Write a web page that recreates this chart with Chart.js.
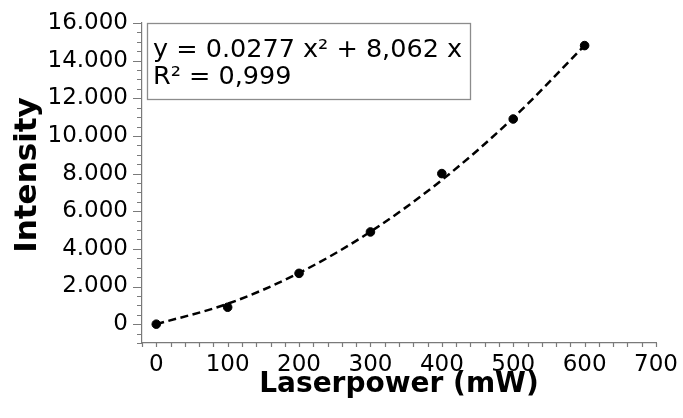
<!DOCTYPE html>
<html>
<head>
<meta charset="utf-8">
<script src="https://cdn.jsdelivr.net/npm/chart.js@4.4.1/dist/chart.umd.min.js"></script>
<style>
  html, body { margin: 0; padding: 0; background: #fff; }
  #wrap { width: 683px; height: 418px; }
</style>
</head>
<body>
<div id="wrap"><canvas id="graph"></canvas></div>
<script>
// measured laser power (mW) and intensity
const powers = [0, 100, 200, 300, 400, 500, 600];
const intensities = [0, 900, 2700, 4900, 8000, 10900, 14800];

// quadratic fit, as written in the box
const fitA = 0.0277;
const fitB = 8.062;
const fitLines = ["y = 0.0277 x\u00b2 + 8,062 x", "R\u00b2 = 0,999"];

const xMajor = [0, 100, 200, 300, 400, 500, 600, 700];
const yMajor = [0, 2000, 4000, 6000, 8000, 10000, 12000, 14000, 16000];

const font = "'DejaVu Sans', Verdana, sans-serif";
const axisGray = '#7a7a7a';

let points = [];
let trend = [];
for (let i = 0; i < powers.length; i++) {
    points.push({ x: powers[i], y: intensities[i] });
    trend.push({ x: powers[i], y: fitA * powers[i] * powers[i] + fitB * powers[i] });
}

function thousands(v) {
    return String(v).replace(/\B(?=(\d{3})+(?!\d))/g, ".");
}

// draws major/minor tick marks, the y title and the fit box
const extras = {
    id: 'extras',
    afterDraw(chart) {
        const c = chart.ctx;
        const area = chart.chartArea;
        const xs = chart.scales.x;
        const ys = chart.scales.y;
        c.save();
        c.strokeStyle = axisGray;
        c.lineWidth = 1.2;
        c.beginPath();
        ys.ticks.forEach(t => {
            if (t.value % 500 != 0) return;
            let py = Math.round(ys.getPixelForValue(t.value)) + 0.5;
            let len = yMajor.includes(t.value) ? 9 : 5;
            c.moveTo(area.left - len, py);
            c.lineTo(area.left, py);
        });
        xs.ticks.forEach(t => {
            let px = Math.round(xs.getPixelForValue(t.value)) + 0.5;
            c.moveTo(px, area.bottom);
            c.lineTo(px, area.bottom + 4);
        });
        c.stroke();

        // y axis title, sits a bit above the middle
        c.save();
        c.translate(36, 175);
        c.rotate(-Math.PI / 2);
        c.fillStyle = '#000';
        c.font = "bold 31px " + font;
        c.textAlign = 'center';
        c.textBaseline = 'alphabetic';
        c.fillText('Intensity', 0, 0);
        c.restore();

        // fit box
        let bx = area.left + 5, by = area.top, bw = 323, bh = 76;
        c.fillStyle = '#fff';
        c.fillRect(bx, by, bw, bh);
        c.strokeStyle = '#8c8c8c';
        c.lineWidth = 1.3;
        c.strokeRect(bx + 0.5, by + 0.5, bw, bh);
        c.fillStyle = '#000';
        c.font = "25.5px " + font;
        c.textBaseline = 'alphabetic';
        c.fillText(fitLines[0], bx + 6, by + 34);
        c.fillText(fitLines[1], bx + 6, by + 61);
        c.restore();
    }
};

Chart.defaults.color = '#000';
Chart.defaults.font.family = font;

const ctx = document.getElementById('graph').getContext('2d');
const chart = new Chart(ctx, {
    type: 'scatter',
    data: {
        datasets: [
            {
                label: 'Intensity',
                data: points,
                backgroundColor: '#000',
                borderColor: '#000',
                pointRadius: 4.3,
                pointHoverRadius: 4.3,
            },
            {
                label: 'Fit',
                data: trend,
                showLine: true,
                borderColor: '#000',
                borderWidth: 2.5,
                borderDash: [8, 4.5],
                pointRadius: 0,
                cubicInterpolationMode: 'monotone',
            }
        ]
    },
    options: {
        responsive: true,
        maintainAspectRatio: false,
        animation: false,
        layout: { padding: { top: 23, right: 27, left: 0, bottom: 0 } },
        plugins: {
            legend: { display: false },
            tooltip: { enabled: false },
        },
        scales: {
            x: {
                type: 'linear',
                min: -20,
                max: 700,
                afterFit(scale) { scale.height = 75; },
                ticks: {
                    stepSize: 20,
                    autoSkip: false,
                    maxRotation: 0,
                    padding: 4,
                    font: { size: 23 },
                    callback: v => xMajor.includes(v) ? String(v) : '',
                },
                grid: { drawOnChartArea: false, tickLength: 4, tickColor: 'rgba(0,0,0,0)' },
                border: { color: axisGray, width: 1.2 },
                title: {
                    display: true,
                    text: 'Laserpower (mW)',
                    font: { size: 28, weight: 'bold' },
                    padding: { top: 0, bottom: 16 },
                },
            },
            y: {
                min: -1000,
                max: 16000,
                afterFit(scale) { scale.width = 142; },
                ticks: {
                    stepSize: 500,
                    autoSkip: false,
                    padding: 5,
                    font: { size: 23 },
                    callback: v => yMajor.includes(v) ? thousands(v) : '',
                },
                grid: { drawOnChartArea: false, tickLength: 9, tickColor: 'rgba(0,0,0,0)' },
                border: { color: axisGray, width: 1.2 },
            }
        }
    },
    plugins: [extras]
});
</script>
</body>
</html>
